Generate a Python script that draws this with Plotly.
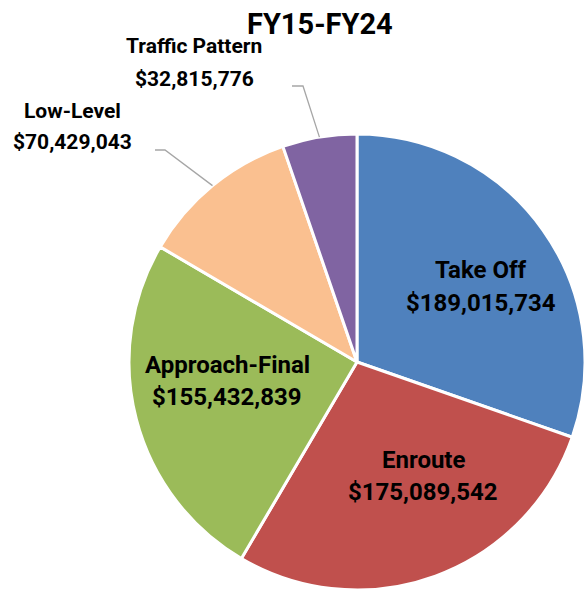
import math
import plotly.graph_objects as go

categories = ["Take Off", "Enroute", "Approach-Final", "Low-Level", "Traffic Pattern"]
values = [189015734, 175089542, 155432839, 70429043, 32815776]
colors = ["#4F81BD", "#C0504D", "#9BBB59", "#FAC090", "#8064A2"]
title_text = "FY15-FY24"

W, H = 585, 597
cx, cy, R = 357, 362, 228  # pixel geometry of the pie

fig = go.Figure(go.Pie(
    labels=categories,
    values=values,
    sort=False,
    direction="clockwise",
    rotation=0,
    marker=dict(colors=colors, line=dict(color="white", width=3)),
    textinfo="none",
    hoverinfo="label+value",
    domain=dict(x=[(cx - R) / W, 1], y=[(H - cy - R) / H, (H - cy + R) / H]),
    showlegend=False,
))

def px(x):
    return x / W

def py(y):
    return 1 - y / H

def money(v):
    return "${:,}".format(v)

ann = []
inside = {"Take Off": (481, 270, 303), "Enroute": (423, 460, 492), "Approach-Final": (227, 365, 397)}
for name, (x, y1, y2) in inside.items():
    v = values[categories.index(name)]
    ann.append(dict(x=px(x), y=py(y1), text="<b>%s</b>" % name, font=dict(size=24)))
    ann.append(dict(x=px(x), y=py(y2), text="<b>%s</b>" % money(v), font=dict(size=24)))

outside = {"Traffic Pattern": (194, 46, 79), "Low-Level": (72, 111, 142)}
for name, (x, y1, y2) in outside.items():
    v = values[categories.index(name)]
    ann.append(dict(x=px(x), y=py(y1), text="<b>%s</b>" % name, font=dict(size=21)))
    ann.append(dict(x=px(x), y=py(y2), text="<b>%s</b>" % money(v), font=dict(size=21)))

ann.append(dict(x=px(320), y=py(24), text="<b>%s</b>" % title_text, font=dict(size=29)))

for a in ann:
    a.update(xref="paper", yref="paper", showarrow=False, xanchor="center", yanchor="middle")
    a["font"].update(color="black", family="Roboto")

total = sum(values)
shapes = []
starts = {"Traffic Pattern": (292, 303, 86), "Low-Level": (155, 165, 150)}
cum = 0
mids = {}
for c, v in zip(categories, values):
    mids[c] = (cum + v / 2) / total * 2 * math.pi
    cum += v
for name, (x0, x1, y0) in starts.items():
    a = mids[name]
    ex = cx + R * math.sin(a)
    ey = cy - R * math.cos(a)
    path = "M %f %f L %f %f L %f %f" % (px(x0), py(y0), px(x1), py(y0), px(ex), py(ey))
    shapes.append(dict(type="path", path=path, xref="paper", yref="paper",
                       line=dict(color="#A6A6A6", width=1.3)))

fig.update_layout(
    width=W, height=H,
    margin=dict(l=0, r=0, t=0, b=0),
    paper_bgcolor="white",
    plot_bgcolor="white",
    font=dict(family="Roboto"),
    annotations=ann,
    shapes=shapes,
)

fig.write_html("out.html", config={"displayModeBar": False},
               post_script="document.body.style.margin='0';")
